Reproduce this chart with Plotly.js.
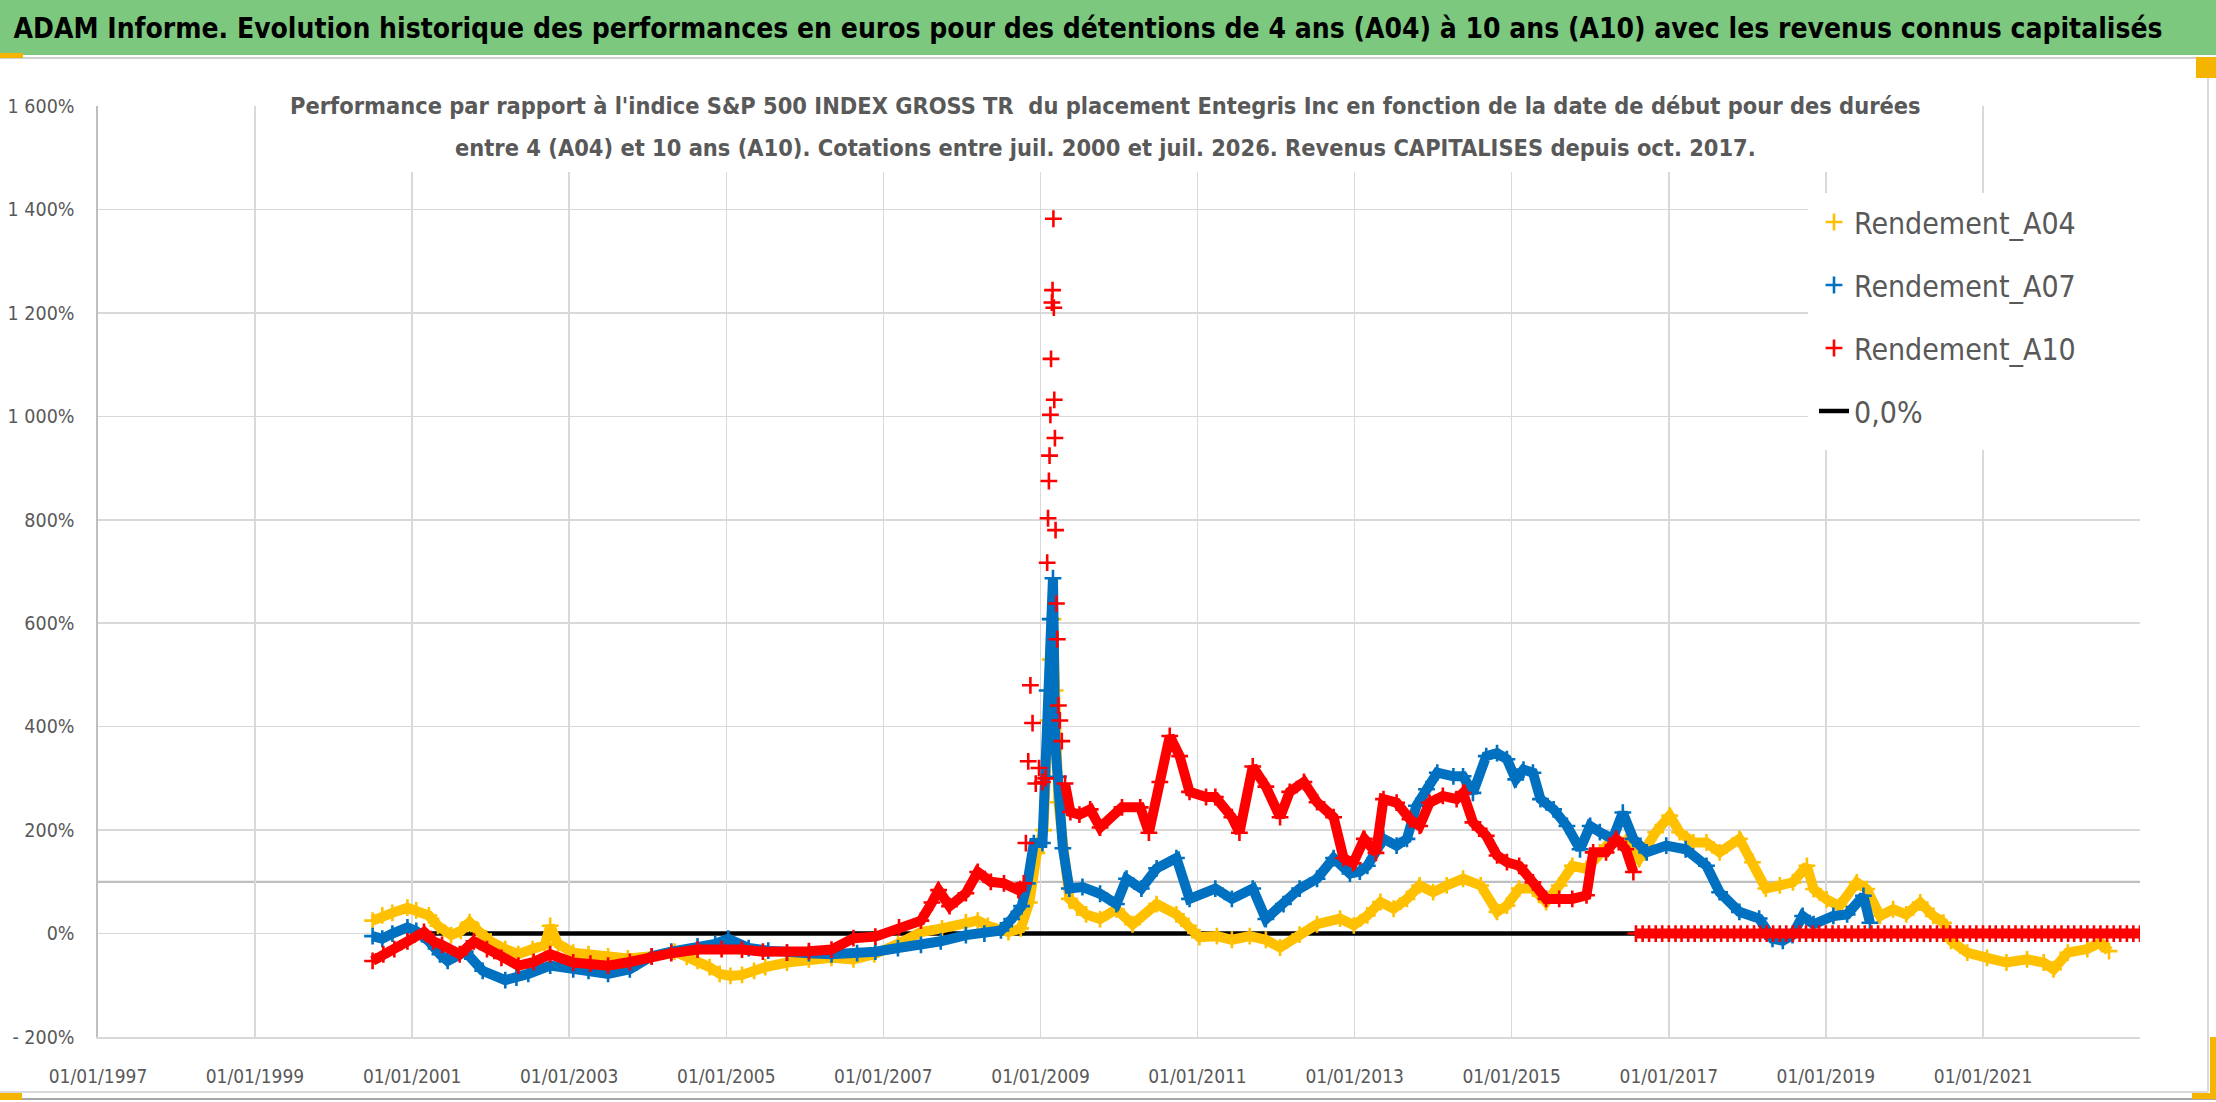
<!DOCTYPE html>
<html>
<head>
<meta charset="utf-8">
<script src="https://cdn.plot.ly/plotly-3.0.1.min.js"></script>
<style>
  html, body { margin: 0; padding: 0; background: #ffffff; }
  #chart { width: 2216px; height: 1102px; }
</style>
</head>
<body>
<div id="chart"></div>
<script>
const FONT = '"Liberation Sans Narrow", "Arial Narrow", "DejaVu Sans Condensed", sans-serif';
const TEXT_GREY = "#595959";

const COLORS = {
  a04: "#ffc000",
  a07: "#0070c0",
  a10: "#ff0000",
  zero: "#000000",
};

// x ticks every 2 years
const xTickVals = ["1997-01-01", "1999-01-01", "2001-01-01", "2003-01-01", "2005-01-01", "2007-01-01",
  "2009-01-01", "2011-01-01", "2013-01-01", "2015-01-01", "2017-01-01", "2019-01-01", "2021-01-01"];
const xTickText = ["01/01/1997", "01/01/1999", "01/01/2001", "01/01/2003", "01/01/2005", "01/01/2007",
  "01/01/2009", "01/01/2011", "01/01/2013", "01/01/2015", "01/01/2017", "01/01/2019", "01/01/2021"];

const yTickVals = [-200, 0, 200, 400, 600, 800, 1000, 1200, 1400, 1600];
const yTickText = ["- 200%", "0%", "200%", "400%", "600%", "800%", "1 000%", "1 200%", "1 400%", "1 600%"];

// Rendement_A04 (%)
const a04Dates = ["2000-07-01", "2000-08-15", "2000-10-01", "2000-12-10", "2001-01-20", "2001-03-20", "2001-05-01",
  "2001-07-01", "2001-08-15", "2001-09-25", "2001-11-05", "2002-01-01", "2002-03-10", "2002-05-10", "2002-07-15",
  "2002-09-10", "2002-10-05", "2002-11-10", "2003-01-20", "2003-04-01", "2003-07-01", "2003-10-01", "2004-01-20",
  "2004-05-05", "2004-07-01", "2004-08-20", "2004-10-15", "2004-12-01", "2005-01-20", "2005-03-15", "2005-05-10",
  "2005-07-01", "2005-10-10", "2006-01-20", "2006-05-05", "2006-08-15", "2006-11-20", "2007-03-10", "2007-06-25",
  "2007-10-01", "2008-01-20", "2008-03-15", "2008-05-01", "2008-08-05", "2008-10-01", "2008-11-10", "2008-12-15",
  "2009-01-15", "2009-02-05", "2009-02-15", "2009-02-28", "2009-03-10", "2009-03-25", "2009-05-15", "2009-06-20",
  "2009-08-01", "2009-10-05", "2009-12-20", "2010-03-05", "2010-06-25", "2010-09-25", "2010-11-20", "2011-01-10",
  "2011-04-01", "2011-06-10", "2011-09-01", "2011-11-15", "2012-01-20", "2012-04-20", "2012-07-10", "2012-10-25",
  "2012-12-28", "2013-03-01", "2013-05-01", "2013-07-01", "2013-09-01", "2013-10-30", "2014-01-01", "2014-03-05",
  "2014-05-20", "2014-08-10", "2014-10-25", "2014-12-10", "2015-02-05", "2015-04-10", "2015-06-10", "2015-08-10",
  "2015-10-10", "2015-12-15", "2016-02-15", "2016-04-15", "2016-06-15", "2016-08-15", "2016-11-01", "2017-01-05",
  "2017-02-20", "2017-04-25", "2017-06-25", "2017-08-25", "2017-11-25", "2018-01-25", "2018-03-28", "2018-06-01",
  "2018-08-01", "2018-10-05", "2018-11-05", "2019-01-05", "2019-03-05", "2019-05-25", "2019-07-10", "2019-09-10",
  "2019-11-10", "2020-01-10", "2020-03-15", "2020-05-15", "2020-07-01", "2020-08-05", "2020-10-20", "2021-01-20",
  "2021-04-20", "2021-07-25", "2021-10-10", "2021-11-25", "2022-01-30", "2022-05-01", "2022-07-01", "2022-08-10"];
const a04Values = [25, 35, 40, 50, 45, 35, 15,
  -3, 5, 22, 5, -15, -30, -40, -30,
  -22, 15, -20, -37, -40, -44, -48, -44,
  -35, -45, -53, -65, -78, -82, -80, -72,
  -65, -56, -50, -47, -50, -40, -20, 3,
  10, 22, 25, 15, 3, 10, 60, 156,
  200, 412, 530, 608, 470, 254, 67, 50,
  37, 28, 47, 18, 57, 37, 15, -7,
  -5, -12, -5, -12, -27, -2, 18, 29,
  16, 35, 61, 48, 67, 93, 80, 93,
  106, 93, 42, 54, 87, 87, 61, 93,
  131, 125, 157, 183, 176, 144, 196, 228,
  196, 176, 176, 157, 183, 138, 87, 93,
  99, 131, 86, 66, 53, 99, 86, 34,
  47, 37, 60, 34, 21, -14, -37, -47,
  -56, -50, -56, -69, -37, -30, -17, -34];

// Rendement_A07 (%)
const a07Dates = ["2000-07-01", "2000-08-15", "2000-10-01", "2000-12-10", "2001-01-20", "2001-03-20", "2001-05-10",
  "2001-06-15", "2001-09-05", "2001-11-25", "2002-03-10", "2002-05-01", "2002-06-25", "2002-10-05", "2003-01-20",
  "2003-04-01", "2003-07-01", "2003-10-10", "2004-01-20", "2004-04-20", "2004-08-20", "2004-11-10", "2005-01-10",
  "2005-04-15", "2005-07-15", "2005-10-10", "2006-01-20", "2006-05-05", "2006-09-01", "2006-11-25", "2007-03-10",
  "2007-06-25", "2007-09-25", "2008-01-20", "2008-04-15", "2008-07-01", "2008-08-20", "2008-10-05", "2008-11-01",
  "2008-12-01", "2009-01-10", "2009-02-01", "2009-02-15", "2009-02-28", "2009-03-10", "2009-03-25", "2009-04-15",
  "2009-05-15", "2009-07-15", "2009-10-05", "2009-12-20", "2010-02-05", "2010-04-15", "2010-06-25", "2010-09-25",
  "2010-11-25", "2011-03-25", "2011-06-10", "2011-09-15", "2011-11-15", "2012-02-05", "2012-04-20", "2012-07-10",
  "2012-09-25", "2012-12-10", "2013-01-25", "2013-03-01", "2013-05-15", "2013-07-15", "2013-09-01", "2013-10-15",
  "2013-12-01", "2014-01-20", "2014-04-05", "2014-05-20", "2014-07-05", "2014-09-05", "2014-10-25", "2014-12-10",
  "2015-01-20", "2015-02-25", "2015-04-10", "2015-05-15", "2015-07-15", "2015-09-15", "2015-11-15", "2016-01-01",
  "2016-02-15", "2016-04-15", "2016-06-01", "2016-07-20", "2016-09-20", "2016-12-20", "2017-03-20", "2017-06-25",
  "2017-08-25", "2017-11-25", "2018-02-25", "2018-04-28", "2018-06-15", "2018-07-30", "2018-09-15", "2018-11-05",
  "2019-02-05", "2019-04-10", "2019-06-25", "2019-07-25"];
const a07Values = [-5, -10, 0, 12, 5, -15, -40,
  -53, -35, -72, -90, -85, -78, -62, -69,
  -72, -78, -69, -44, -35, -25, -20, -10,
  -28, -33, -37, -38, -40, -38, -35, -28,
  -22, -15, -3, 0, 6, 28, 53, 97,
  175, 175, 470, 608, 687, 372, 303, 165,
  87, 90, 77, 57, 106, 87, 126, 146,
  67, 87, 67, 87, 28, 57, 87, 106,
  146, 116, 120, 131, 183, 170, 183, 247,
  279, 311, 304, 304, 272, 343, 349, 337,
  298, 317, 311, 260, 240, 208, 163, 208,
  196, 183, 234, 183, 157, 170, 163, 131,
  80, 42, 29, -10, -14, -3, 34, 18,
  34, 37, 73, 21];

// Rendement_A10 (%), before the 2009 spike
const a10Dates = ["2000-07-01", "2000-08-20", "2000-10-10", "2000-12-10", "2001-02-25", "2001-04-10", "2001-05-20",
  "2001-08-10", "2001-10-15", "2001-12-15", "2002-02-20", "2002-05-10", "2002-07-20", "2002-10-05", "2003-01-20",
  "2003-04-10", "2003-07-01", "2003-10-10", "2004-01-20", "2004-04-20", "2004-08-20", "2004-12-10", "2005-03-15",
  "2005-06-20", "2005-10-10", "2006-01-20", "2006-05-05", "2006-08-15", "2006-11-25", "2007-03-15", "2007-06-25",
  "2007-08-15", "2007-09-15", "2007-11-05", "2008-01-20", "2008-03-15", "2008-05-15", "2008-07-15", "2008-09-20",
  "2008-10-15"];
const a10Values = [-53, -40, -30, -15, 3, -15, -22,
  -40, -15, -30, -47, -62, -55, -40, -56,
  -58, -62, -55, -44, -38, -31, -30, -31,
  -35, -37, -34, -31, -9, -6, 12, 25,
  60, 84, 53, 78, 119, 100, 97, 84,
  97];

// Rendement_A10 (%), scattered points of the 2008-2009 spike
const a10SpikeDates = ["2008-10-25", "2008-11-05", "2008-11-15", "2008-11-25", "2008-12-10", "2008-12-25", "2009-01-10",
  "2009-01-25", "2009-02-01", "2009-02-05", "2009-02-09", "2009-02-12", "2009-02-16", "2009-02-19", "2009-02-23",
  "2009-02-26", "2009-03-02", "2009-03-04", "2009-03-06", "2009-03-09", "2009-03-12", "2009-03-16", "2009-03-20",
  "2009-03-25", "2009-04-01", "2009-04-10"];
const a10SpikeValues = [175, 333, 480, 407, 290, 320, 293,
  300, 717, 803, 875, 924, 1003, 1111, 1220,
  1244, 1382, 1210, 1032, 958, 780, 638, 569,
  441, 412, 372];

// Rendement_A10 (%), after the spike
const a10LateDates = ["2009-04-25", "2009-05-20", "2009-07-01", "2009-08-20", "2009-10-05",
  "2010-01-15", "2010-04-10", "2010-05-20", "2010-07-10", "2010-08-25", "2010-10-10", "2010-11-25", "2011-02-10",
  "2011-03-25", "2011-06-10", "2011-07-15", "2011-09-15", "2011-11-15", "2012-01-20", "2012-03-05", "2012-05-10",
  "2012-07-10", "2012-09-25", "2012-11-10", "2012-12-25", "2013-02-15", "2013-04-10", "2013-05-15", "2013-07-15",
  "2013-09-15", "2013-10-30", "2013-12-15", "2014-02-15", "2014-04-20", "2014-05-20", "2014-07-05", "2014-09-05",
  "2014-10-25", "2014-12-10", "2015-02-05", "2015-04-10", "2015-06-10", "2015-08-10", "2015-10-10", "2015-12-15",
  "2016-01-15", "2016-03-15", "2016-05-01", "2016-06-15", "2016-07-20"];
const a10LateValues = [290, 235, 230, 240, 205,
  244, 244, 195, 293, 382, 343, 274, 264,
  264, 225, 195, 323, 284, 225, 274, 293,
  254, 225, 146, 136, 183, 156, 260, 253,
  221, 208, 253, 266, 260, 272, 215, 189,
  151, 138, 131, 99, 67, 67, 67, 74,
  157, 157, 183, 163, 119];

// A10 start dates without a full 10-year window: shown at 0
const a10ZeroDates = ["2016-08-01", "2016-09-01", "2016-10-01", "2016-11-01", "2016-12-01",
  "2017-01-01", "2017-02-01", "2017-03-01", "2017-04-01", "2017-05-01", "2017-06-01", "2017-07-01", "2017-08-01", "2017-09-01", "2017-10-01", "2017-11-01", "2017-12-01",
  "2018-01-01", "2018-02-01", "2018-03-01", "2018-04-01", "2018-05-01", "2018-06-01", "2018-07-01", "2018-08-01", "2018-09-01", "2018-10-01", "2018-11-01", "2018-12-01",
  "2019-01-01", "2019-02-01", "2019-03-01", "2019-04-01", "2019-05-01", "2019-06-01", "2019-07-01", "2019-08-01", "2019-09-01", "2019-10-01", "2019-11-01", "2019-12-01",
  "2020-01-01", "2020-02-01", "2020-03-01", "2020-04-01", "2020-05-01", "2020-06-01", "2020-07-01", "2020-08-01", "2020-09-01", "2020-10-01", "2020-11-01", "2020-12-01",
  "2021-01-01", "2021-02-01", "2021-03-01", "2021-04-01", "2021-05-01", "2021-06-01", "2021-07-01", "2021-08-01", "2021-09-01", "2021-10-01", "2021-11-01", "2021-12-01",
  "2022-01-01", "2022-02-01", "2022-03-01", "2022-04-01", "2022-05-01", "2022-06-01", "2022-07-01", "2022-08-01", "2022-09-01", "2022-10-01", "2022-11-01", "2022-12-01",
  "2023-01-01"];
const a10ZeroValues = [0, 0, 0, 0, 0,
  0, 0, 0, 0, 0, 0, 0, 0, 0, 0, 0, 0,
  0, 0, 0, 0, 0, 0, 0, 0, 0, 0, 0, 0,
  0, 0, 0, 0, 0, 0, 0, 0, 0, 0, 0, 0,
  0, 0, 0, 0, 0, 0, 0, 0, 0, 0, 0, 0,
  0, 0, 0, 0, 0, 0, 0, 0, 0, 0, 0, 0,
  0, 0, 0, 0, 0, 0, 0, 0, 0, 0, 0, 0,
  0];

// 0,0% reference line
const zeroLineDates = ["2001-03-01", "2023-01-01"];
const zeroLineValues = [0, 0];

// plot area in pixels, used to place the decorations in paper coords
const PLOT = { left: 98, right: 2140, top: 106, bottom: 1037 };
const px = (X) => (X - PLOT.left) / (PLOT.right - PLOT.left);
const py = (Y) => (PLOT.bottom - Y) / (PLOT.bottom - PLOT.top);

function bandTrace(group, x, y, color) {
  return {
    type: "scatter",
    mode: "lines",
    x,
    y,
    legendgroup: group,
    showlegend: false,
    line: { color, width: 10 },
    hoverinfo: "skip",
  };
}

function crossTrace(group, name, x, y, color, rank, showlegend = false) {
  return {
    type: "scatter",
    mode: "markers",
    name,
    x,
    y,
    legendgroup: group,
    legendrank: rank,
    showlegend,
    marker: { symbol: "cross-thin", size: 12, color, line: { color, width: 2.6 } },
    hovertemplate: "%{x}<br>" + name + " %{y}%<extra></extra>",
  };
}

function rect(x0, y0, x1, y1, color) {
  return { type: "rect", xref: "paper", yref: "paper", x0: px(x0), x1: px(x1), y0: py(y1), y1: py(y0),
    fillcolor: color, line: { width: 0 }, layer: "above" };
}

function hline(x0, x1, Y, color, width) {
  return { type: "line", xref: "paper", yref: "paper", x0: px(x0), x1: px(x1), y0: py(Y), y1: py(Y),
    line: { color, width }, layer: "above" };
}

const traces = [
  {
    type: "scatter",
    mode: "lines",
    name: "0,0%",
    x: zeroLineDates,
    y: zeroLineValues,
    legendgroup: "zero",
    legendrank: 4,
    line: { color: COLORS.zero, width: 4.5 },
    hoverinfo: "skip",
  },
  bandTrace("a04", a04Dates, a04Values, COLORS.a04),
  crossTrace("a04", "Rendement_A04", a04Dates, a04Values, COLORS.a04, 1, true),
  bandTrace("a07", a07Dates, a07Values, COLORS.a07),
  crossTrace("a07", "Rendement_A07", a07Dates, a07Values, COLORS.a07, 2, true),
  bandTrace("a10", a10Dates, a10Values, COLORS.a10),
  crossTrace("a10", "Rendement_A10", a10Dates, a10Values, COLORS.a10, 3, true),
  crossTrace("a10", "Rendement_A10", a10SpikeDates, a10SpikeValues, COLORS.a10, 3),
  bandTrace("a10", a10LateDates, a10LateValues, COLORS.a10),
  crossTrace("a10", "Rendement_A10", a10LateDates, a10LateValues, COLORS.a10, 3),
  bandTrace("a10", a10ZeroDates, a10ZeroValues, COLORS.a10),
  crossTrace("a10", "Rendement_A10", a10ZeroDates, a10ZeroValues, COLORS.a10, 3),
];

const shapes = [
  // green title band
  rect(0, 0, 2216, 55, "#7dc87f"),
  hline(0, 2208, 58, "#d0d0d0", 2),
  // chart frame right and bottom
  { type: "line", xref: "paper", yref: "paper", x0: px(2208), x1: px(2208), y0: py(60), y1: py(1092),
    line: { color: "#d9d9d9", width: 2 }, layer: "above" },
  hline(0, 2208, 1092, "#d9d9d9", 2),
  hline(0, 2216, 1099, "#a6a6a6", 2),
  // selection handles
  rect(0, 53, 23, 58, "#f5b400"),
  rect(2196, 57, 2216, 78, "#f5b400"),
  rect(2210, 1037, 2216, 1098, "#f5b400"),
  rect(2192, 1093, 2216, 1099, "#f5b400"),
  rect(0, 1093, 22, 1100, "#f5b400"),
  // 100% line
  { type: "line", xref: "paper", yref: "y", x0: 0, x1: 1, y0: 100, y1: 100,
    line: { color: "#bfbfbf", width: 2.2 }, layer: "below" },
  // white boxes behind subtitle and legend
  rect(275, 84, 1935, 172, "#ffffff"),
  rect(1808, 193, 2140, 450, "#ffffff"),
];

const annotations = [
  {
    xref: "paper", yref: "paper", x: px(1105), y: py(106), xanchor: "center", yanchor: "middle",
    text: "Performance par rapport à l'indice S&P 500 INDEX GROSS TR  du placement Entegris Inc en fonction de la date de début pour des durées",
    showarrow: false,
    font: { family: FONT, size: 23.4, color: TEXT_GREY, weight: "bold" },
  },
  {
    xref: "paper", yref: "paper", x: px(1105), y: py(148), xanchor: "center", yanchor: "middle",
    text: "entre 4 (A04) et 10 ans (A10). Cotations entre juil. 2000 et juil. 2026. Revenus CAPITALISES depuis oct. 2017.",
    showarrow: false,
    font: { family: FONT, size: 23.4, color: TEXT_GREY, weight: "bold" },
  },
];

const layout = {
  width: 2216,
  height: 1102,
  margin: { l: PLOT.left, r: 2216 - PLOT.right, t: PLOT.top, b: 1102 - PLOT.bottom, pad: 0 },
  paper_bgcolor: "#ffffff",
  plot_bgcolor: "#ffffff",
  font: { family: FONT, color: TEXT_GREY },
  title: {
    text: "ADAM Informe. Evolution historique des performances en euros pour des détentions de 4 ans (A04) à 10 ans (A10) avec les revenus connus capitalisés",
    x: 1088 / 2216,
    xanchor: "center",
    y: 1 - 28 / 1102,
    yanchor: "middle",
    font: { family: FONT, size: 28, color: "#000000", weight: "bold" },
  },
  xaxis: {
    type: "date",
    range: ["1997-01-01", "2023-01-01"],
    tickmode: "array",
    tickvals: xTickVals,
    ticktext: xTickText,
    showgrid: true,
    gridcolor: "#d9d9d9",
    gridwidth: 1.6,
    showline: true,
    linecolor: "#d9d9d9",
    linewidth: 1.6,
    ticks: "",
    ticklabelstandoff: 22,
    tickfont: { family: FONT, size: 19, color: TEXT_GREY },
    zeroline: false,
    fixedrange: true,
  },
  yaxis: {
    range: [-200, 1600],
    tickmode: "array",
    tickvals: yTickVals,
    ticktext: yTickText,
    showgrid: true,
    gridcolor: "#d9d9d9",
    gridwidth: 1.6,
    showline: true,
    linecolor: "#bfbfbf",
    linewidth: 1.6,
    ticks: "",
    ticklabelstandoff: 18,
    tickfont: { family: FONT, size: 19.5, color: TEXT_GREY },
    zeroline: false,
    fixedrange: true,
  },
  legend: {
    x: px(1814),
    y: py(196),
    xanchor: "left",
    yanchor: "top",
    bgcolor: "rgba(0,0,0,0)",
    font: { family: FONT, size: 30, color: TEXT_GREY },
    tracegroupgap: 21,
    traceorder: "grouped",
  },
  shapes,
  annotations,
  showlegend: true,
};

Plotly.newPlot("chart", traces, layout, { displayModeBar: false, staticPlot: true });
</script>
</body>
</html>
